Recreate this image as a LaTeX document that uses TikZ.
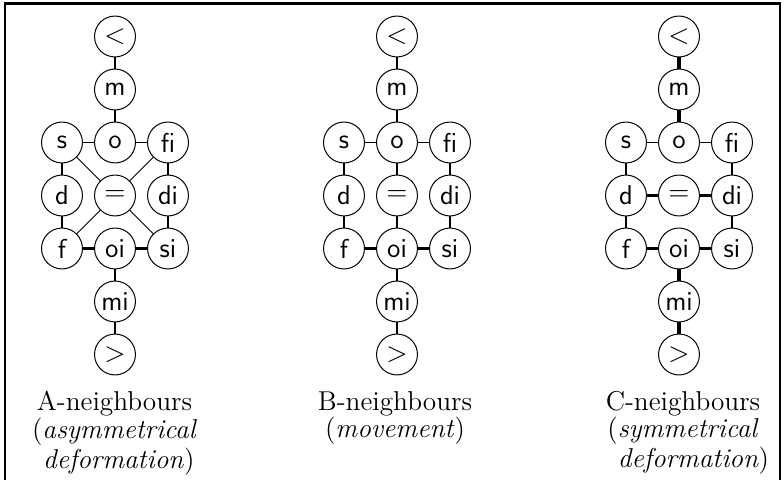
\documentclass[tikz,border=0pt]{standalone}
\begin{document}
\begin{tikzpicture}[x=0.4032pt,y=-0.4032pt,
  rel/.style={circle,draw,line width=0.4pt,minimum size=16.5pt,inner sep=0pt,
    font=\fontsize{11}{13}\sffamily},
  weak/.style={line width=0.4pt},
  plain/.style={line width=0.8pt},
  strong/.style={line width=1.6pt},
  caption/.style={anchor=north,align=center,inner sep=0pt,
    font=\fontsize{11}{11}\selectfont}]
\useasboundingbox (0,0) rectangle (784,480);
% frame, open at the bottom
\draw[line width=1.2pt] (5,490) -- (5,3.5) -- (780,3.5) -- (780,490);

% the thirteen relations of one neighbourhood lattice
\newcommand\relnodes[2]{%
  \node[rel] (#1lt) at (#2,36.5) {$<$};
  \node[rel] (#1m)  at (#2,89.5) {m};
  \node[rel] (#1s)  at (#2-53,142.5) {s};
  \node[rel] (#1o)  at (#2,142.5) {o};
  \node[rel] (#1fi) at (#2+53,142.5) {fi};
  \node[rel] (#1d)  at (#2-53,195.5) {d};
  \node[rel] (#1eq) at (#2,195.5) {$=$};
  \node[rel] (#1di) at (#2+53,195.5) {di};
  \node[rel] (#1f)  at (#2-53,248.5) {f};
  \node[rel] (#1oi) at (#2,248.5) {oi};
  \node[rel] (#1si) at (#2+53,248.5) {si};
  \node[rel] (#1mi) at (#2,301.5) {mi};
  \node[rel] (#1gt) at (#2,354.5) {$>$};
}

\relnodes{A}{115}
\relnodes{B}{397}
\relnodes{C}{679}

% A-neighbours
\draw[plain] (Alt)--(Am) (Am)--(Ao) (As)--(Ao) (Ao)--(Afi) (As)--(Ad) (Ad)--(Af)
  (Afi)--(Adi) (Adi)--(Asi) (Aoi)--(Ami) (Ami)--(Agt);
\draw[weak] (As)--(Aeq) (Afi)--(Aeq) (Af)--(Aeq) (Asi)--(Aeq);
\draw[strong] (Af)--(Aoi) (Aoi)--(Asi);

% B-neighbours
\draw[plain] (Blt)--(Bm) (Bm)--(Bo) (Bs)--(Bo) (Bo)--(Bfi) (Bs)--(Bd) (Bd)--(Bf)
  (Bfi)--(Bdi) (Bdi)--(Bsi) (Bo)--(Beq) (Beq)--(Boi) (Boi)--(Bmi) (Bmi)--(Bgt);
\draw[strong] (Bf)--(Boi) (Boi)--(Bsi);

% C-neighbours
\draw[plain] (Cs)--(Co) (Co)--(Cfi) (Cs)--(Cd) (Cd)--(Cf) (Cfi)--(Cdi) (Cdi)--(Csi);
\draw[strong] (Clt)--(Cm) (Cm)--(Co) (Cd)--(Ceq) (Ceq)--(Cdi) (Cf)--(Coi) (Coi)--(Csi)
  (Coi)--(Cmi) (Cmi)--(Cgt);

% captions
\node[caption] (capA) at (114.5,391) {A-neighbours\\(\textit{asymmetrical}\\\hspace*{3.5pt}\textit{deformation})};
\node[caption] (capB) at (395,391) {B-neighbours\\(\textit{movement})};
\node[caption] (capC) at (683,391) {C-neighbours\\(\textit{symmetrical}\\\hspace*{8.5pt}\textit{deformation})};
\end{tikzpicture}
\end{document}
